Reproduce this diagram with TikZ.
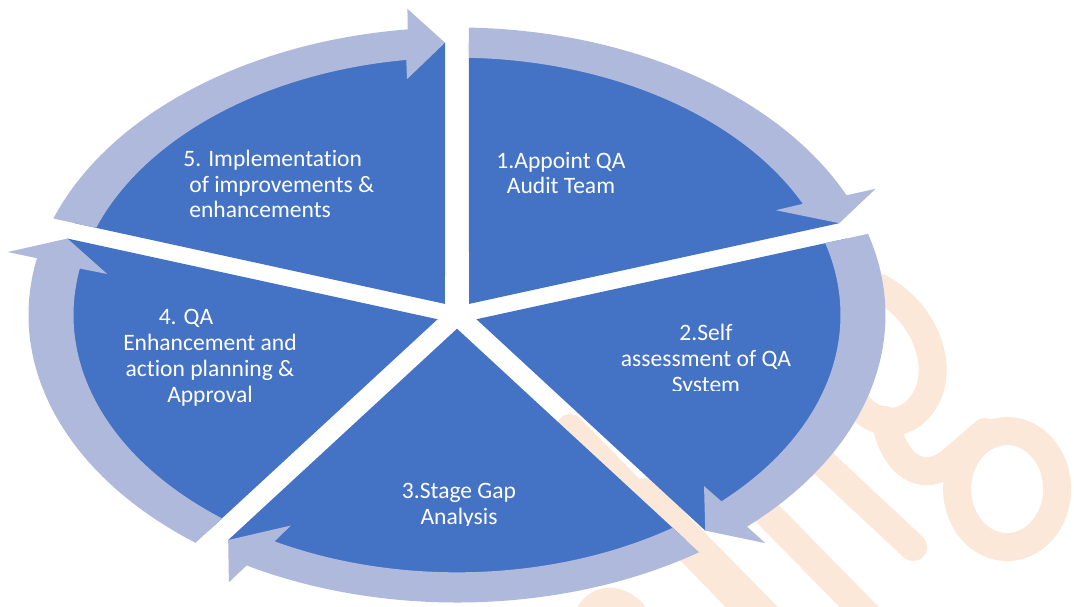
\documentclass[tikz,border=0pt]{standalone}
\usepackage{fontspec}
\setmainfont{Carlito}[Ligatures=NoCommon]
\usetikzlibrary{calc}
\definecolor{pieblue}{RGB}{68,114,196}
\definecolor{ringblue}{RGB}{174,185,220}
\definecolor{markorange}{RGB}{252,232,217}

\begin{document}
\begin{tikzpicture}
  \def\rin{7.67}
  \def\rout{8.57}
  \def\rmid{8.12}
  \def\rhin{7.10}
  \def\rhout{9.18}
  \def\gap{0.24}
  \def\ys{0.671}
  \tikzset{stagetext/.style={text=white,font=\fontsize{13.4}{14.7}\selectfont,align=center,inner sep=0pt}}
  \tikzset{watermark/.style={markorange,line width=0.56cm,line cap=round,line join=round}}
  \useasboundingbox (-9.14,-5.82) rectangle (12.34,6.30);
  % faint watermark behind the cycle
  \begin{scope}[x=0.02cm,y=-0.02cm,shift={(-457,-315)}]
    \draw[watermark] (570,428) -- (758,620);
    \draw[watermark] (645,492) -- (775,624);
    \draw[watermark] (700,445) -- (870,618);
    \draw[watermark] (820,460) -- (913,547);
    \draw[watermark] (585,625) .. controls (592,600) and (612,594) .. (632,612);
    \draw[watermark] (880,288) .. controls (930,315) and (950,380) .. (915,412) .. controls (895,430) and (870,420) .. (858,405);
    \draw[watermark] (885,420) .. controls (895,470) and (925,482) .. (950,462) -- (985,432);
    \draw[watermark] (1007,489) ellipse [x radius=50,y radius=58];
  \end{scope}
  % pie sectors
  \foreach \s in {90,18,-54,-126,-198} {
    \fill[pieblue,yscale=\ys] ({\s-36}:{\gap/sin(36)}) -- ({\s-asin(\gap/\rmid)}:\rmid)
      arc[start angle={\s-asin(\gap/\rmid)}, end angle={\s-72+asin(\gap/\rmid)}, radius=\rmid] -- cycle;
  }
  % ring arrows
  \foreach \s in {90,18,-54,-126,-198} {
    \pgfmathsetmacro\e{\s-72}
    \fill[ringblue,yscale=\ys] ({\s-asin(\gap/\rout)}:\rout)
      arc[start angle={\s-asin(\gap/\rout)}, end angle={\e+6.6}, radius=\rout]
      -- ({\e+6.2}:\rhout) -- ({\e+asin(\gap/\rmid)}:\rmid) -- ({\e+8.1}:\rhin)
      -- ({\e+7.6}:\rin)
      arc[start angle={\e+7.6}, end angle={\s-asin(\gap/\rin)}, radius=\rin] -- cycle;
  }
  % stage texts
  \node[stagetext] (s1) at (2.08,2.84) {1.Appoint QA\\Audit Team};
  \begin{scope}
    \clip (2,-1.51) rectangle (8,2);
    \node[stagetext] (s2) at (4.98,-0.90) {2.Self\\assessment of QA\\System};
  \end{scope}
  \begin{scope}
    \clip (-3,-4.21) rectangle (3,-2);
    \node[stagetext] (s3) at (0.04,-3.82) {3.Stage Gap\\Analysis};
  \end{scope}
  \node[stagetext] (s4) at (-4.94,-0.86) {4. QA\hspace*{0.96cm}\\Enhancement and\\action planning \&\\Approval};
  \node[stagetext,anchor=west,align=left] (s5) at (-5.48,2.62) {5. Implementation\\\hspace*{0.12cm}of improvements \&\\\hspace*{0.12cm}enhancements};
\end{tikzpicture}
\end{document}
